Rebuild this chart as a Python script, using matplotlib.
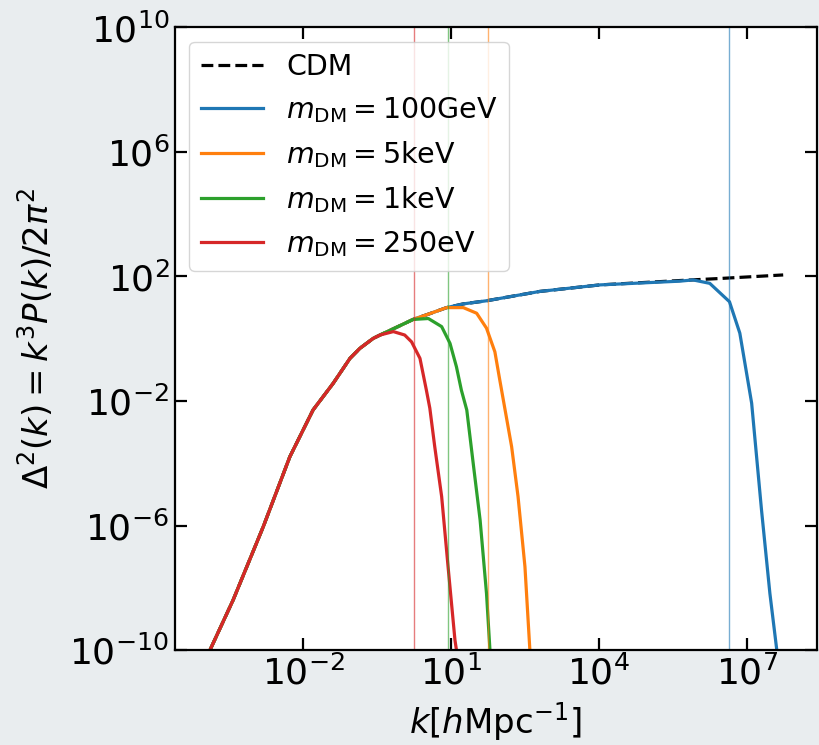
import numpy as np
import matplotlib
matplotlib.use("Agg")
import matplotlib.pyplot as plt
from matplotlib.ticker import FixedLocator, LogFormatterSciNotation, NullLocator

# ---- data (log10 k, log10 Delta^2) ----
cdm_logk = [-4.60, -3.89, -3.42, -2.81, -2.27, -1.80, -1.39, -1.05, -0.85, -0.58, -0.44,
            -0.17, 0.23, 0.54, 0.91, 1.25, 1.72, 2.80, 4.02, 5.64, 6.50, 7.74]
cdm_logd = [-12.4, -10.0, -8.39, -6.04, -3.79, -2.29, -1.43, -0.63, -0.31, 0.01, 0.12,
            0.32, 0.62, 0.79, 1.00, 1.12, 1.22, 1.52, 1.73, 1.87, 1.94, 2.05]

# shared low-k part + cutoff tails
red_logk = cdm_logk[:11] + [-0.17, 0.06, 0.20, 0.37, 0.50, 0.57, 0.67, 0.81, 0.94, 1.08, 1.11, 1.16]
red_logd = cdm_logd[:11] + [0.23, 0.12, -0.10, -0.63, -1.65, -2.23, -3.47, -5.07, -7.32, -9.68, -10.0, -11.2]

green_logk = cdm_logk[:13] + [0.54, 0.81, 0.98, 1.11, 1.21, 1.32, 1.45, 1.59, 1.72, 1.79, 1.83]
green_logd = cdm_logd[:13] + [0.65, 0.39, -0.15, -0.90, -1.65, -2.29, -4.00, -5.82, -8.18, -10.0, -11.2]

orange_logk = cdm_logk[:15] + [1.25, 1.52, 1.72, 1.89, 1.99, 2.23, 2.36, 2.50, 2.60, 2.64]
orange_logd = cdm_logd[:15] + [1.00, 0.82, 0.34, -0.42, -1.33, -3.47, -5.07, -7.32, -10.0, -11.2]

blue_logk = cdm_logk[:19] + [5.64, 5.91, 6.25, 6.65, 6.86, 7.10, 7.30, 7.47, 7.61, 7.65]
blue_logd = cdm_logd[:19] + [1.85, 1.89, 1.78, 1.19, 0.18, -2.07, -5.50, -8.18, -10.0, -11.2]

# vertical markers (log10 k)
vline_logk = {"C0": 6.65, "C1": 1.75, "C2": 0.93, "C3": 0.24}

labels = ["CDM", r"$m_{\mathrm{DM}}=100\mathrm{GeV}$", r"$m_{\mathrm{DM}}=5\mathrm{keV}$",
          r"$m_{\mathrm{DM}}=1\mathrm{keV}$", r"$m_{\mathrm{DM}}=250\mathrm{eV}$"]

xticks = [1e-2, 1e1, 1e4, 1e7]
yticks = [1e-10, 1e-6, 1e-2, 1e2, 1e6, 1e10]

fig = plt.figure(figsize=(8.19, 7.45), dpi=100)
fig.patch.set_facecolor("#e9edef")
ax = fig.add_axes([0.2137, 0.1275, 0.7835, 0.8356])
ax.set_facecolor("white")

def p(lk):
    return 10.0 ** np.array(lk)

lw = 2.3
ax.plot(p(cdm_logk), p(cdm_logd), "k--", lw=lw, label=labels[0])
ax.plot(p(blue_logk), p(blue_logd), color="C0", lw=lw, label=labels[1])
ax.plot(p(orange_logk), p(orange_logd), color="C1", lw=lw, label=labels[2])
ax.plot(p(green_logk), p(green_logd), color="C2", lw=lw, label=labels[3])
ax.plot(p(red_logk), p(red_logd), color="C3", lw=lw, label=labels[4])

for c, lk in vline_logk.items():
    ax.axvline(10 ** lk, color=c, lw=1.0, alpha=0.6)

ax.set_xscale("log")
ax.set_yscale("log")
ax.set_xlim(10 ** -4.60, 10 ** 8.42)
ax.set_ylim(1e-10, 1e10)
ax.xaxis.set_major_locator(FixedLocator(xticks))
ax.yaxis.set_major_locator(FixedLocator(yticks))
ax.xaxis.set_minor_locator(NullLocator())
ax.yaxis.set_minor_locator(NullLocator())
ax.xaxis.set_major_formatter(LogFormatterSciNotation())
ax.yaxis.set_major_formatter(LogFormatterSciNotation())
ax.tick_params(which="major", direction="in", top=True, right=True,
               length=8.5, width=1.6, labelsize=26, pad=4)
for s in ax.spines.values():
    s.set_linewidth(1.6)

ax.set_xlabel(r"$k[h\mathrm{Mpc}^{-1}]$", fontsize=24.5, labelpad=6)
ax.set_ylabel(r"$\Delta^2(k)=k^3P(k)/2\pi^2$", fontsize=24.5, labelpad=10)

ax.legend(loc="upper left", fontsize=20.5, frameon=True, borderaxespad=0.5,
          handlelength=2.2, labelspacing=0.5)

fig.savefig("out.png", dpi=100, facecolor=fig.get_facecolor())
